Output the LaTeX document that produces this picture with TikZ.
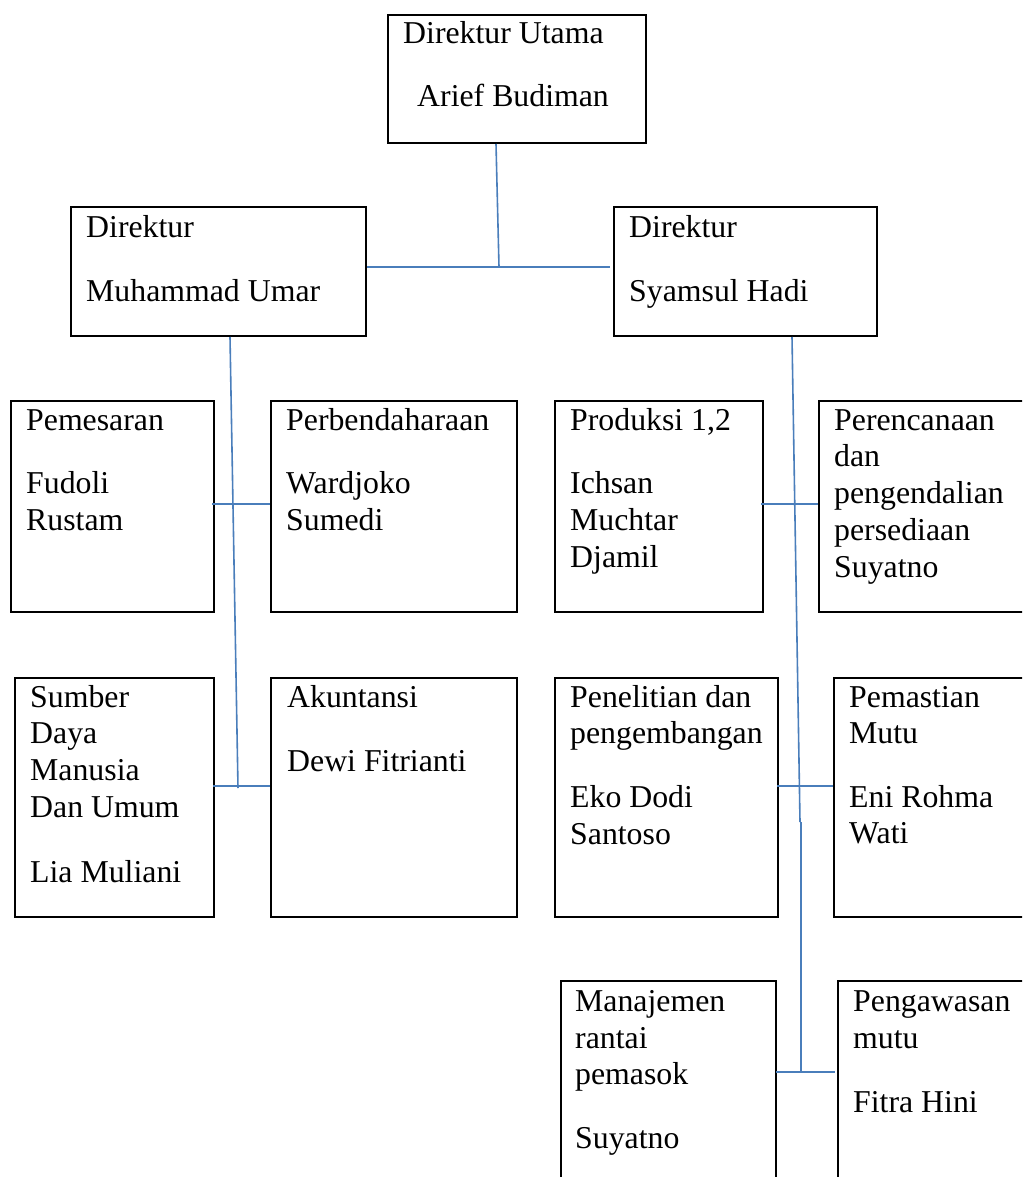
\documentclass[tikz,border=0pt]{standalone}
\usepackage{fontspec}
\setmainfont{Liberation Serif}
\usetikzlibrary{fit}
\definecolor{linkblue}{RGB}{74,126,187}
\tikzset{
  orgbox/.style={draw=black, line width=2pt, inner sep=0pt, rectangle},
  txt/.style={anchor=base west, inner sep=0pt, font=\fontsize{31.8}{36.8}\selectfont},
  link/.style={draw=linkblue, line width=1.6pt}
}
\newcommand\tl[4]{\node[txt] (#1) at (#2,#3) {#4};}
\begin{document}
\begin{tikzpicture}[x=1pt,y=-1pt]
\useasboundingbox (0,0) rectangle (1022,1177);
\clip (0,0) rectangle (1022,1177);
\fill[white] (0,0) rectangle (1022,1177);

% boxes
\node[orgbox, fit={(388,15)(646,143)}] (du) {};
\node[orgbox, fit={(71,207)(366,336)}] (dl) {};
\node[orgbox, fit={(614,207)(877,336)}] (dr) {};
\node[orgbox, fit={(11,401)(214,612)}] (pem) {};
\node[orgbox, fit={(271,401)(517,612)}] (perb) {};
\node[orgbox, fit={(555,401)(763,612)}] (prod) {};
\node[orgbox, fit={(819,401)(1040,612)}] (peren) {};
\node[orgbox, fit={(15,678)(214,917)}] (sdm) {};
\node[orgbox, fit={(271,678)(517,917)}] (aku) {};
\node[orgbox, fit={(555,678)(778,917)}] (pen) {};
\node[orgbox, fit={(834,678)(1040,917)}] (pmu) {};
\node[orgbox, fit={(561,981)(776,1200)}] (man) {};
\node[orgbox, fit={(838,981)(1040,1200)}] (pga) {};

% texts
\tl{du1}{403}{44}{Direktur Utama}
\tl{du2}{417}{107}{Arief Budiman}
\tl{dl1}{86}{237}{Direktur}
\tl{dl2}{86}{301}{Muhammad Umar}
\tl{dr1}{629}{237}{Direktur}
\tl{dr2}{629}{301}{Syamsul Hadi}

\tl{pem1}{26}{430}{Pemesaran}
\tl{pem2}{26}{493}{Fudoli}
\tl{pem3}{26}{530}{Rustam}

\tl{perb1}{286}{430}{Perbendaharaan}
\tl{perb2}{286}{493}{Wardjoko}
\tl{perb3}{286}{530}{Sumedi}

\tl{prod1}{570}{430}{Produksi 1,2}
\tl{prod2}{570}{493}{Ichsan}
\tl{prod3}{570}{530}{Muchtar}
\tl{prod4}{570}{567}{Djamil}

\tl{per1}{834}{430}{Perencanaan}
\tl{per2}{834}{466}{dan}
\tl{per3}{834}{503}{pengendalian}
\tl{per4}{834}{540}{persediaan}
\tl{per5}{834}{577}{Suyatno}

\tl{sdm1}{30}{707}{Sumber}
\tl{sdm2}{30}{743}{Daya}
\tl{sdm3}{30}{780}{Manusia}
\tl{sdm4}{30}{817}{Dan Umum}
\tl{sdm5}{30}{882}{Lia Muliani}

\tl{aku1}{287}{707}{Akuntansi}
\tl{aku2}{287}{771}{Dewi Fitrianti}

\tl{pen1}{570}{707}{Penelitian dan}
\tl{pen2}{570}{743}{pengembangan}
\tl{pen3}{570}{807}{Eko Dodi}
\tl{pen4}{570}{844}{Santoso}

\tl{pmu1}{849}{707}{Pemastian}
\tl{pmu2}{849}{743}{Mutu}
\tl{pmu3}{849}{807}{Eni Rohma}
\tl{pmu4}{849}{843}{Wati}

\tl{man1}{575}{1011}{Manajemen}
\tl{man2}{575}{1048}{rantai}
\tl{man3}{575}{1084}{pemasok}
\tl{man4}{575}{1148}{Suyatno}

\tl{pga1}{853}{1011}{Pengawasan}
\tl{pga2}{853}{1048}{mutu}
\tl{pga3}{853}{1112}{Fitra Hini}

% junction coordinates
\coordinate (jtop) at (499,267);
\coordinate (jl1) at (234.5,504);
\coordinate (jl2) at (238,786);
\coordinate (jr1) at (795,504);
\coordinate (jr2) at (799,786);
\coordinate (jrbreak) at (800,822);
\coordinate (jr3) at (801,1072);

% connectors
\draw[link] ([xshift=109pt]du.south west) -- (jtop);
\draw[link] (dl.east |- jtop) -- (jtop) -- ([xshift=-3pt]dr.west |- jtop);
\draw[link] ([xshift=160pt]dl.south west) -- (238,788);
\draw[link] ([xshift=-3pt]pem.east |- jl1) -- (perb.west |- jl1);
\draw[link] ([xshift=-2pt]sdm.east |- jl2) -- (aku.west |- jl2);
\draw[link] ([xshift=-86pt]dr.south east) -- (jrbreak);
\draw[link] (801,822) -- (jr3);
\draw[link] ([xshift=-3pt]prod.east |- jr1) -- (peren.west |- jr1);
\draw[link] ([xshift=-2pt]pen.east |- jr2) -- (pmu.west |- jr2);
\draw[link] ([xshift=-1pt]man.east |- jr3) -- ([xshift=-2pt]pga.west |- jr3);
\end{tikzpicture}
\end{document}
